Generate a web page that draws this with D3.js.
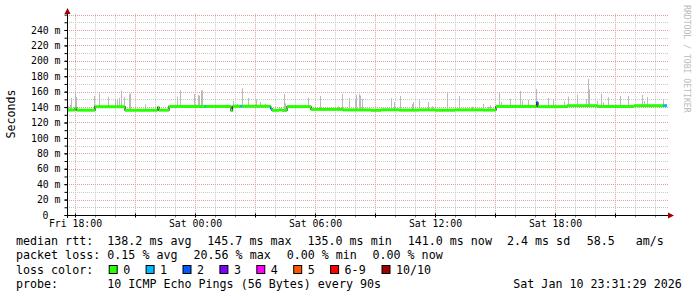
<!DOCTYPE html>
<html><head><meta charset="utf-8">
<script src="https://cdn.jsdelivr.net/npm/d3@7"></script>
<style>
html,body{margin:0;padding:0;background:#fff;}
svg{display:block;}
text{font-family:"DejaVu Sans Mono",monospace;white-space:pre;fill:#000;}
</style></head><body>
<svg id="c" width="697" height="297"></svg>
<script>
// ---------- DATA ----------
// time offsets are hours relative to Fri 18:00 (Jan 9 2026)
const medianHours  = [-0.4, 0.0, 0.08, 1.0, 2.5, 4.13, 4.2, 4.7, 6.5, 6.55, 7.8, 7.88, 8.28, 8.35, 9.78, 9.85, 10.2, 10.35, 10.6, 11.8, 13.4, 14.8, 15.3, 16.2, 17.2, 18.0, 19.0, 20.4, 21.05, 23.08, 23.15, 24.6, 26.1, 27.95, 29.4];
const medianMs     = [136.2, 138.8, 136.0, 140.5, 136.0, 139.5, 136.0, 140.8, 140.8, 140.8, 135.5, 141.0, 141.0, 141.0, 138.0, 135.8, 136.5, 135.7, 140.6, 137.0, 136.3, 135.8, 136.5, 136.0, 136.4, 135.9, 136.4, 136.1, 140.6, 145.7, 140.6, 141.8, 140.6, 141.8, 141.8];
const medianLoss   = [0, 0, 0, 0, 0, 0, 0, 0, 1, 0, 0, 0, 1, 0, 1, 0, 0, 0, 0, 0, 0, 0, 0, 0, 0, 0, 0, 0, 0, 2, 0, 0, 0, 0, 1];
const endHour = 29.6;

const spikeHours = [-0.365, -0.265, -0.2, -0.015, 0.065, 0.935, 1.215, 1.665, 2.0, 2.115, 2.2, 2.315, 2.465, 2.715, 2.765, 3.515, 5.1, 5.265, 5.965, 6.135, 6.2, 6.285, 6.335, 7.915, 8.115, 8.335, 8.665, 9.065, 9.265, 9.515, 10.465, 10.515, 10.935, 11.665, 12.265, 13.165, 13.365, 13.715, 14.0, 14.065, 14.215, 14.265, 14.365, 15.815, 15.965, 16.265, 16.835, 16.9, 17.215, 17.665, 17.865, 18.615, 19.215, 19.85, 20.415, 20.635, 20.765, 21.215, 21.3, 21.75, 22.265, 22.365, 22.635, 23.05, 23.665, 23.915, 24.45, 24.665, 25.115, 25.565, 25.665, 25.715, 26.115, 26.315, 26.385, 26.665, 27.265, 27.65, 28.365, 28.465, 28.615, 29.415];
const spikeTopMs = [141, 142.7, 151.8, 160, 153, 154.4, 158, 153.5, 150, 150, 152, 161.7, 153, 156.6, 158, 143.6, 153.5, 162, 157, 155.7, 154.8, 162, 161.3, 148, 144, 164.4, 152, 150, 146.6, 144.4, 157, 145, 142, 152, 154.4, 141, 157, 151.8, 149, 156, 157, 155, 150.5, 151.8, 146.6, 154.4, 144, 146.6, 150, 146.6, 141, 158, 154.4, 140.5, 144, 140.5, 142, 158.5, 146.6, 150.5, 160.9, 148.6, 149.5, 163.5, 151.8, 149.5, 147.4, 153.5, 156, 150, 176.4, 163, 148, 157, 146.3, 153, 154.4, 154.4, 155.7, 147.8, 153, 150.5];

const yTickValues = [0, 20, 40, 60, 80, 100, 120, 140, 160, 180, 200, 220, 240];
const yTickLabels = ["0", "20 m", "40 m", "60 m", "80 m", "100 m", "120 m", "140 m", "160 m", "180 m", "200 m", "220 m", "240 m"];
const xLabelFormat = "%a %H:%M";

const lossLabels = ["0", "1", "2", "3", "4", "5", "6-9", "10/10"];
const lossColors = ["#26ff00", "#00b8ff", "#0059ff", "#7e00ff", "#ff00ff", "#ff5500", "#ff0000", "#a10000"];

const legendRtt  = ["median rtt:", "138.2 ms avg", "145.7 ms max", "135.0 ms min", "141.0 ms now", "2.4 ms sd", "58.5   am/s"];
const legendLoss = ["packet loss:", "0.15 % avg", "20.56 % max", "0.00 % min", "0.00 % now"];
const legendColorTitle = "loss color:";
const legendProbe = ["probe:", "10 ICMP Echo Pings (56 Bytes) every 90s", "Sat Jan 10 23:31:29 2026"];
const yTitle = "Seconds";
const watermark = "RRDTOOL / TOBI OETIKER";

// ---------- LAYOUT ----------
const svg = d3.select("#c");
const L = 67, R = 667, B = 215, T = 13.8;
const base = new Date(2026, 0, 9, 18, 0, 0);
const toDate = h => new Date(base.getTime() + h * 3600e3);

const x = d3.scaleTime().domain([toDate(-0.4), toDate(29.6)]).range([L, R]);
const y = d3.scaleLinear().domain([0, 261]).range([B, T]);

// grid
const g = svg.append("g");
const hourTicks = x.ticks(d3.timeHour.every(1));
g.selectAll("line.vg").data(hourTicks).join("line")
  .attr("x1", d => Math.round(x(d)) + 0.5).attr("x2", d => Math.round(x(d)) + 0.5)
  .attr("y1", T).attr("y2", B)
  .attr("stroke", d => d.getHours() % 3 === 0 ? "#e0a0a0" : "#c8c8c8")
  .attr("stroke-dasharray", "1,1").attr("stroke-width", 1);
const minorY = d3.range(0, 261, 10);
g.selectAll("line.hg").data(minorY.filter(v => v > 0)).join("line")
  .attr("x1", L).attr("x2", R + 1)
  .attr("y1", d => Math.round(y(d)) + 0.5).attr("y2", d => Math.round(y(d)) + 0.5)
  .attr("stroke", d => d % 20 === 0 ? "#e0a0a0" : "#c8c8c8")
  .attr("stroke-dasharray", "1,1").attr("stroke-width", 1);

// smoke spikes
const bis = d3.bisector(d => d).right;
const medAt = h => medianMs[Math.max(0, bis(medianHours, h) - 1)];
svg.append("g").selectAll("rect").data(spikeHours).join("rect")
  .attr("x", d => Math.round(x(toDate(d))))
  .attr("width", 1)
  .attr("y", (d, i) => y(spikeTopMs[i]))
  .attr("height", (d, i) => Math.max(0, y(medAt(d)) - y(spikeTopMs[i])))
  .attr("fill", "#bababa");

// median: dark step line then loss-coloured segments
const steps = medianHours.map((h, i) => [h, medianMs[i]]).concat([[endHour, medianMs[medianMs.length - 1]]]);
svg.append("path")
  .attr("d", d3.line().x(d => x(toDate(d[0]))).y(d => y(d[1])).curve(d3.curveStepAfter)(steps))
  .attr("fill", "none").attr("stroke", "#202020").attr("stroke-width", 1.2);
svg.append("g").selectAll("line").data(medianHours).join("line")
  .attr("x1", d => x(toDate(d)))
  .attr("x2", (d, i) => x(toDate(i + 1 < medianHours.length ? medianHours[i + 1] : endHour)))
  .attr("y1", (d, i) => y(medianMs[i])).attr("y2", (d, i) => y(medianMs[i]))
  .attr("stroke", (d, i) => lossColors[medianLoss[i]]).attr("stroke-width", 3);

// axes
const yAxisMinor = d3.axisLeft(y).tickValues(minorY).tickSize(3).tickFormat("");
svg.append("g").attr("transform", `translate(${L + 0.5},0)`).call(yAxisMinor)
  .call(s => s.select(".domain").remove())
  .call(s => s.selectAll("line").attr("stroke", "#000"));
const yAxis = d3.axisLeft(y).tickValues(yTickValues).tickSize(3).tickPadding(4)
  .tickFormat((d, i) => yTickLabels[i]);
svg.append("g").attr("transform", `translate(${L + 0.5},0)`).call(yAxis)
  .call(s => s.select(".domain").remove())
  .call(s => s.selectAll("text").style("font-family", '"DejaVu Sans Mono",monospace').style("font-size", "9.8px").attr("fill", "#000")
    .attr("x", d => d === 0 ? -19 : -7))
  .call(s => s.selectAll("line").attr("stroke", "#000"));

const xAxis = d3.axisBottom(x).ticks(d3.timeHour.every(1)).tickSize(2).tickPadding(3)
  .tickFormat(d => d.getHours() % 6 === 0 ? d3.timeFormat(xLabelFormat)(d) : "");
svg.append("g").attr("transform", `translate(0,${B + 0.5})`).call(xAxis)
  .call(s => s.select(".domain").remove())
  .call(s => s.selectAll("text").style("font-family", '"DejaVu Sans Mono",monospace').style("font-size", "9.8px").attr("fill", "#000"))
  .call(s => s.selectAll("line").attr("stroke", d => d.getHours() % 3 === 0 ? "#000" : "#888").attr("y1", d => d.getHours() % 3 === 0 ? -2 : 0));

// axis lines + arrows
svg.append("line").attr("x1", L + 0.5).attr("x2", L + 0.5).attr("y1", B + 3).attr("y2", 12).attr("stroke", "#000");
svg.append("line").attr("x1", L - 2).attr("x2", 669).attr("y1", B + 0.5).attr("y2", B + 0.5).attr("stroke", "#000");
svg.append("path").attr("d", `M${L - 2.5},14 L${L + 3.5},14 L${L + 0.5},8 Z`).attr("fill", "#a00000");
svg.append("path").attr("d", `M668,${B - 2.5} L668,${B + 3.5} L674,${B + 0.5} Z`).attr("fill", "#a00000");

// y title
svg.append("text").attr("transform", "translate(14.5,114) rotate(-90)")
  .attr("text-anchor", "middle").style("font-size", "11.6px").text(yTitle);
// watermark
svg.append("text").attr("transform", "translate(684,5) rotate(90)")
  .style("font-size", "8.15px").style("fill", "#bbb").text(watermark);

// legend
const fs = "11.67px";
const row = [245, 259.3, 273.5, 288];
const rttX = [16, 107.3, 207.3, 307.5, 407.7, 507, 586.7];
legendRtt.forEach((t, i) => svg.append("text").attr("x", rttX[i]).attr("y", row[0]).style("font-size", fs).text(t));
const lossX = [16, 107.3, 193.5, 286.7, 372.5];
legendLoss.forEach((t, i) => svg.append("text").attr("x", lossX[i]).attr("y", row[1]).style("font-size", fs).text(t));
svg.append("text").attr("x", 16).attr("y", row[2]).style("font-size", fs).text(legendColorTitle);
const boxX = [108.7, 145.6, 182.5, 219.4, 256.3, 293.2, 330.1, 381.5];
lossLabels.forEach((t, i) => {
  svg.append("rect").attr("x", boxX[i] + 0.5).attr("y", 265.5).attr("width", 8).attr("height", 8)
    .attr("fill", lossColors[i]).attr("stroke", "#000").attr("stroke-width", 1);
  svg.append("text").attr("x", boxX[i] + 14.5).attr("y", row[2]).style("font-size", fs).text(t);
});
svg.append("text").attr("x", 16).attr("y", row[3]).style("font-size", fs).text(legendProbe[0]);
svg.append("text").attr("x", 107.3).attr("y", row[3]).style("font-size", fs).text(legendProbe[1]);
svg.append("text").attr("x", 513.3).attr("y", row[3]).style("font-size", fs).text(legendProbe[2]);
</script>
</body></html>
